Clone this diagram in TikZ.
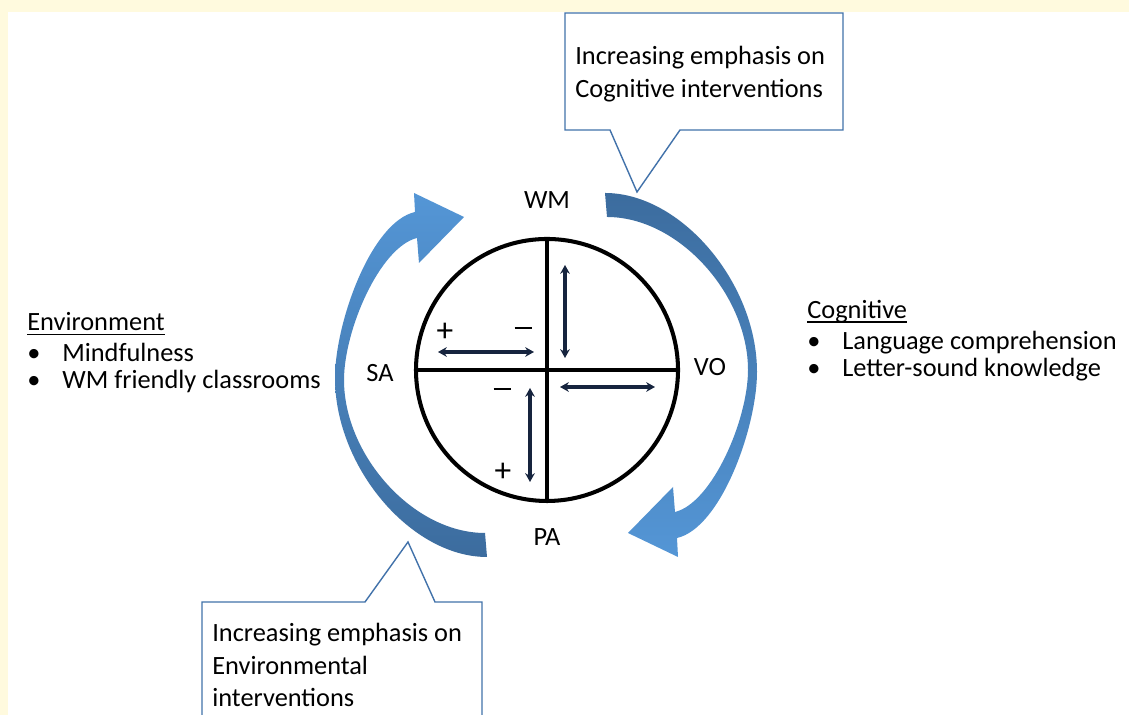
\documentclass[tikz,border=0pt]{standalone}
\usepackage{fontspec}
\setmainfont{Carlito}
\usetikzlibrary{arrows.meta}
\definecolor{cream}{RGB}{255,250,222}
\definecolor{boxblue}{RGB}{66,114,170}
\definecolor{lightturn}{RGB}{84,150,214}
\definecolor{darkturn}{RGB}{60,108,158}
\definecolor{navy}{RGB}{22,36,62}

% underlined heading, rule close to the baseline
\newcommand{\ulhead}[1]{\setbox0=\hbox{#1}\rlap{\rule[-2.2pt]{\wd0}{0.7pt}}\box0}
\newcommand{\blt}{\makebox[0.7cm][l]{\textbullet}}
% long minus sign for the quadrants
\newcommand{\lminus}{\rule[0.26em]{0.34cm}{0.045cm}}
% one turning arrow, drawn around (0,0)
\newcommand{\turnpath}{(59,182) .. controls (135,182) and (211,92) .. (211,3)
  .. controls (211,-52) and (175,-153) .. (131,-163)
  -- (132,-182) -- (82,-158) -- (127,-112) -- (129,-137)
  .. controls (166,-128) and (202,-45) .. (202,5)
  .. controls (202,80) and (133,158) .. (61,158) -- cycle}

\begin{document}
\begin{tikzpicture}[x=0.02cm,y=0.02cm,font=\fontsize{15}{18.4}\selectfont,
  quad/.style={line width=2.3pt},
  twoway/.style={draw=navy,line width=1.9pt,{Stealth[length=5pt,width=5.5pt]}-{Stealth[length=5pt,width=5.5pt]}},
  callout/.style={draw=boxblue,line width=0.8pt,fill=white},
  sign/.style={font=\fontsize{19}{20}\selectfont},
  list/.style={anchor=west,inner sep=0,align=left,font=\fontsize{15}{15.5}\selectfont}]
\useasboundingbox (0,0) rectangle (1129,715);
\clip (0,0) rectangle (1129,715);
\fill[cream] (0,0) rectangle (1129,715);
\fill[white] (8,0) rectangle (1129,703);

% the two turning arrows
\shade[top color=darkturn,bottom color=lightturn,shift={(546,340)}] \turnpath;
\shade[top color=lightturn,bottom color=darkturn,shift={(546,340)},rotate=180] \turnpath;

% wheel
\coordinate (mid) at (547,345);
\draw[quad] (mid) circle[radius=131];
\draw[quad] (mid) ++(-131,0) -- ++(262,0);
\draw[quad] (mid) ++(0,131) -- ++(0,-262);

\node (wm) at (547,515) {WM};
\node (sa) at (380,342) {SA};
\node (vo) at (710,348) {VO};
\node (pa) at (547,178) {PA};

% double arrows in the quadrants
\coordinate (nea) at (565,450); \coordinate (neb) at (565,357);
\coordinate (nwa) at (438,363); \coordinate (nwb) at (534,363);
\coordinate (sea) at (560,328); \coordinate (seb) at (655,328);
\coordinate (swa) at (530,327); \coordinate (swb) at (530,233);
\draw[twoway] (nea) -- (neb);
\draw[twoway] (nwa) -- (nwb);
\draw[twoway] (sea) -- (seb);
\draw[twoway] (swa) -- (swb);
\node[sign] (plusa) at (445,383) {+};
\node[sign] (minusa) at (523,383) {\lminus};
\node[sign] (minusb) at (502,322) {\lminus};
\node[sign] (plusb) at (503,243) {+};

% callouts
\coordinate (cogtip) at (637,523);
\draw[callout] (565,702) -- (843,702) -- (843,585) -- (680,585) -- (cogtip) -- (610,585) -- (565,585) -- cycle;
\node[anchor=west,inner sep=0,align=left] (cogtext) at (575,641) {Increasing emphasis on\\Cognitive interventions};
\coordinate (envtip) at (408,173);
\draw[callout] (202,-10) -- (202,113) -- (365,113) -- (envtip) -- (435,113) -- (482,113) -- (482,-10);
\node[anchor=west,inner sep=0,align=left] (envtext) at (212,50) {Increasing emphasis on\\Environmental\\interventions};

% side lists
\node[list] (envlist) at (27,362) {\ulhead{Environment}\\[2pt]\blt Mindfulness\\\blt WM friendly classrooms};
\node[list] (coglist) at (807,374) {\ulhead{Cognitive}\\[2pt]\blt Language comprehension\\\blt Letter-sound knowledge};
\end{tikzpicture}
\end{document}
